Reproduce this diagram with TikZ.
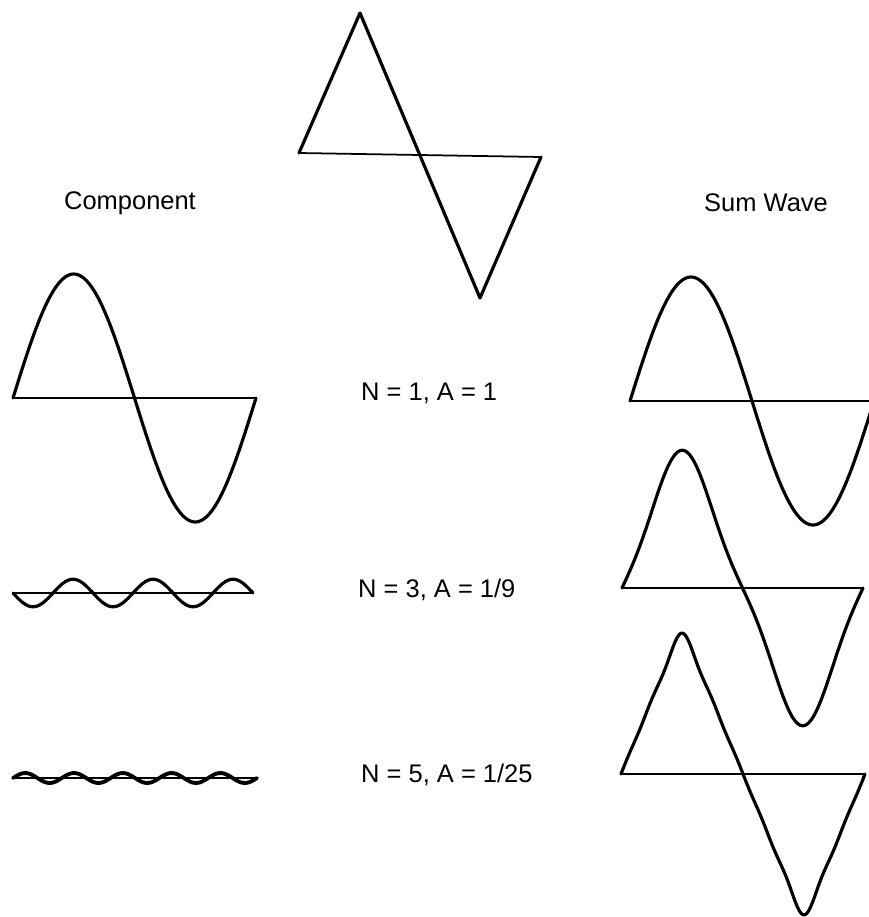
\documentclass[tikz,border=0pt]{standalone}
\usepackage{fontspec}
\setmainfont{Liberation Sans}
\usetikzlibrary{math}

\tikzset{
  wave/.style={line width=1.8pt, line join=round, line cap=round},
  base/.style={line width=1pt},
  head/.style={font=\fontsize{14.5}{17}\selectfont},
  term/.style={font=\fontsize{14.5}{17}\selectfont, anchor=west},
}

\begin{document}
\begin{tikzpicture}[x=0.02cm, y=-0.02cm]
\tikzmath{
\A=124;
\P=243;
\B=119;
}
\useasboundingbox (0,0) rectangle (869,917);

% triangle wave on top
\coordinate (t0) at (299,153);
\coordinate (t1) at (360,13);
\coordinate (t2) at (480,298);
\coordinate (t3) at (541,157);
\draw[wave] (t0) -- (t1) -- (t2) -- (t3);
\draw[base] (t0) -- (t3);

\node[head] (comp) at (130,203) {Component};
\node[head] (sum) at (766,203) {Sum Wave};

% components
\draw[wave] plot[domain=0:\P, samples=121, smooth] ({13+\x}, {398-\A*sin(\x/\P*360)});
\draw[base] (13,398) -- (256,398);
\draw[wave] plot[domain=0:240, samples=151, smooth] ({13+\x}, {593+\A/9*sin(\x/240*1080)});
\draw[base] (13,593) -- (253,593);
\draw[wave, line width=2.2pt] plot[domain=0:244, samples=201, smooth] ({13+\x}, {778-\A/25*sin(\x/244*1800)});
\draw[base] (13,778) -- (257,778);

\node[term] (n1) at (355,393) {N = 1, A = 1};
\node[term] (n3) at (352,590) {N = 3, A = 1/9};
\node[term] (n5) at (355,775) {N = 5, A = 1/25};

% sum waves
\draw[wave] plot[domain=0:244, samples=121, smooth] ({630+\x}, {401-\A*sin(\x/244*360)});
\draw[base] (630,401) -- (874,401);
\draw[wave] plot[domain=0:241, samples=161, smooth] ({622+\x}, {588-\A*(sin(\x/241*360)-sin(\x/241*1080)/9)});
\draw[base] (622,588) -- (863,588);
\draw[wave] plot[domain=0:244, samples=241, smooth] ({621+\x}, {774-\B*(sin(\x/244*360)-sin(\x/244*1080)/9+sin(\x/244*1800)/25-sin(\x/244*2520)/49+sin(\x/244*3240)/81)});
\draw[base] (621,774) -- (865,774);
\end{tikzpicture}
\end{document}
